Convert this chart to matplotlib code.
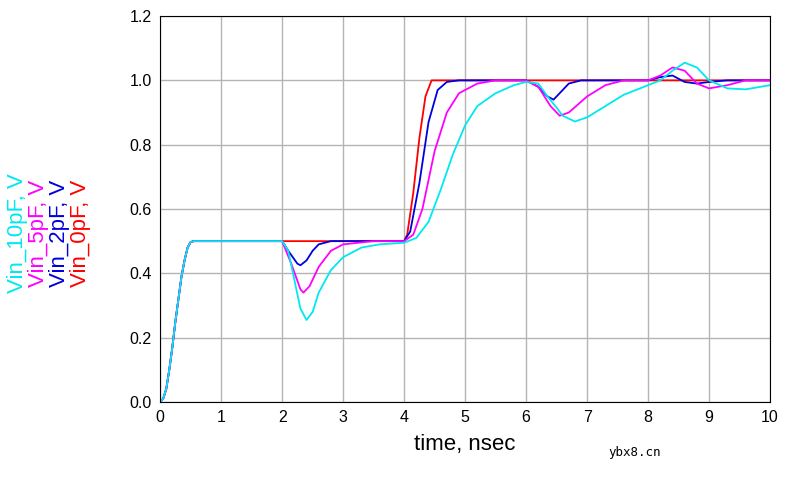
import numpy as np
import matplotlib.pyplot as plt

plt.rcParams['font.family'] = ['Liberation Sans', 'DejaVu Sans']

# ramp 0 -> 0.5 common to all
t_ramp = [0, 0.05, 0.1, 0.15, 0.2, 0.25, 0.3, 0.35, 0.4, 0.45, 0.5, 0.55, 2.0]
v_ramp = [0, 0.01, 0.04, 0.1, 0.17, 0.25, 0.32, 0.39, 0.44, 0.48, 0.497, 0.5, 0.5]

t_10 = [2.0, 2.1, 2.2, 2.3, 2.4, 2.5, 2.6, 2.8, 3.0, 3.3, 3.6, 4.0, 4.2, 4.4, 4.6, 4.8,
        5.0, 5.2, 5.5, 5.8, 6.0, 6.2, 6.35, 6.5, 6.6, 6.8, 7.0, 7.3, 7.6, 8.0, 8.2,
        8.4, 8.6, 8.8, 9.0, 9.3, 9.6, 10.0]
v_10 = [0.5, 0.47, 0.38, 0.29, 0.255, 0.28, 0.34, 0.41, 0.45, 0.48, 0.49, 0.495, 0.51,
        0.56, 0.66, 0.77, 0.86, 0.92, 0.96, 0.985, 0.995, 0.99, 0.95, 0.915, 0.89, 0.872,
        0.885, 0.92, 0.955, 0.985, 1.0, 1.03, 1.055, 1.04, 1.0, 0.975, 0.972, 0.985]

t_5 = [2.0, 2.15, 2.3, 2.35, 2.45, 2.6, 2.8, 3.0, 3.5, 4.0, 4.15, 4.3, 4.5, 4.7, 4.9,
       5.2, 5.5, 6.0, 6.2, 6.4, 6.55, 6.7, 7.0, 7.3, 7.6, 8.0, 8.2, 8.4, 8.6, 8.8,
       9.0, 9.3, 9.6, 10.0]
v_5 = [0.5, 0.43, 0.35, 0.34, 0.36, 0.42, 0.47, 0.49, 0.5, 0.5, 0.52, 0.6, 0.78, 0.9,
       0.96, 0.99, 1.0, 1.0, 0.98, 0.92, 0.89, 0.9, 0.95, 0.985, 1.0, 1.0, 1.015, 1.04,
       1.03, 0.99, 0.975, 0.985, 1.0, 1.0]

t_2 = [2.0, 2.1, 2.25, 2.3, 2.4, 2.5, 2.6, 2.8, 4.0, 4.1, 4.25, 4.4, 4.55, 4.7, 4.9,
       6.0, 6.2, 6.35, 6.45, 6.55, 6.7, 6.9, 8.0, 8.2, 8.4, 8.6, 8.8, 9.0, 9.3, 10.0]
v_2 = [0.5, 0.47, 0.43, 0.425, 0.44, 0.47, 0.49, 0.5, 0.5, 0.53, 0.68, 0.87, 0.97,
       0.995, 1.0, 1.0, 0.98, 0.95, 0.94, 0.96, 0.99, 1.0, 1.0, 1.01, 1.015, 0.995,
       0.99, 0.995, 1.0, 1.0]

t_0 = [2.0, 4.0, 4.05, 4.15, 4.25, 4.35, 4.45, 10.0]
v_0 = [0.5, 0.5, 0.52, 0.65, 0.82, 0.95, 1.0, 1.0]

series = [
    (t_0, v_0, 'red'),
    (t_2, v_2, '#0000e0'),
    (t_5, v_5, '#ff00ff'),
    (t_10, v_10, '#00e8f0'),
]

fig = plt.figure(figsize=(7.85, 4.86), dpi=100)
ax = fig.add_axes([0.204, 0.173, 0.777, 0.794])
for t, v, c in series:
    ax.plot(t_ramp[:-1] + t, v_ramp[:-1] + v, color=c, lw=1.3)

ax.set_xlim(0, 10)
ax.set_ylim(0, 1.2)
ax.set_xticks(range(0, 11))
ax.set_yticks(np.arange(0, 1.21, 0.2))
ax.set_yticklabels([f'{y:.1f}' for y in np.arange(0, 1.21, 0.2)])
ax.grid(True, color='#b4b4b4', lw=1)
ax.tick_params(length=0, labelsize=11.5, pad=6)
for s in ax.spines.values():
    s.set_color('black')
ax.set_xlabel('time, nsec', fontsize=16, labelpad=6)

labels = [('Vin_10pF, V', '#00e8f0'), ('Vin_5pF, V', '#ff00ff'),
          ('Vin_2pF, V', '#0000e0'), ('Vin_0pF, V', 'red')]
for i, (lab, c) in enumerate(labels):
    fig.text(0.022 + i * 0.027, 0.52, lab, rotation=90, color=c, fontsize=16,
             ha='center', va='center')

fig.text(0.775, 0.062, 'ybx8.cn', family='DejaVu Sans Mono', fontsize=9)
fig.savefig('out.png')
